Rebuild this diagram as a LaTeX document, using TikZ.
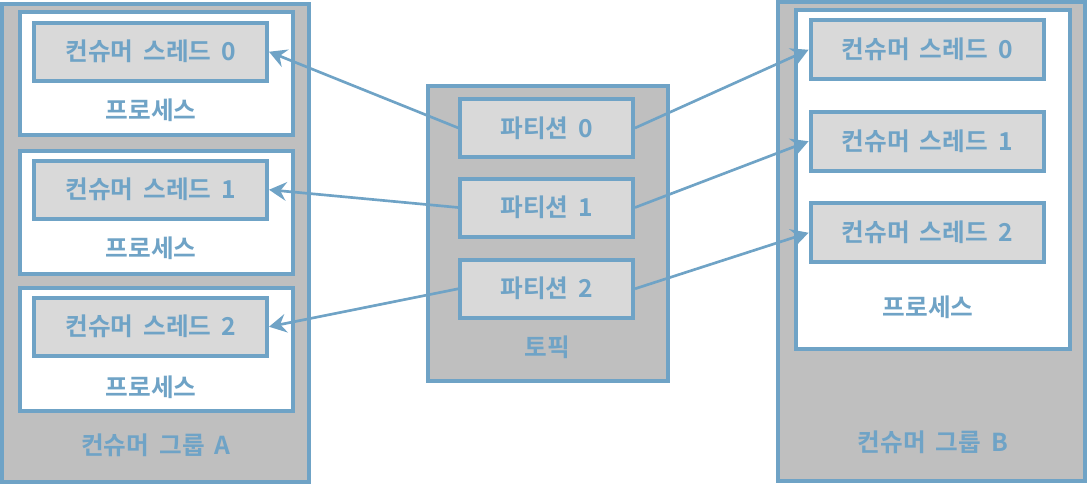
\documentclass[tikz,border=0pt]{standalone}
\usepackage{fontspec}
\setmainfont{Noto Sans CJK KR Bold}[WordSpace=1.8]
\usepackage{tikz}
\usetikzlibrary{arrows.meta}
\definecolor{steelblue}{HTML}{6FA3C6}
\definecolor{groupgray}{HTML}{BFBFBF}
\definecolor{threadgray}{HTML}{D9D9D9}
\tikzset{%
  boxgrp/.style={rectangle,draw=steelblue,fill=groupgray,line width=3pt,inner sep=0pt}
}
\tikzset{%
  boxproc/.style={rectangle,draw=steelblue,fill=white,line width=3pt,inner sep=0pt}
}
\tikzset{%
  boxthr/.style={rectangle,draw=steelblue,fill=threadgray,line width=3pt,inner sep=0pt,text=steelblue,font=\boxfont}
}
\tikzset{%
  boxlabel/.style={text=steelblue,font=\boxfont,inner sep=0pt},
  consume/.style={draw=steelblue,line width=2pt,-{Stealth[length=13pt,width=14pt,inset=4.5pt]}}
}
\newcommand\boxfont{\fontsize{18.5}{20}\selectfont}

\begin{document}
\begin{tikzpicture}[x=0.75pt,y=-0.75pt]
            \useasboundingbox (0,0) rectangle (1088,486);
            % consumer group A
            \node[boxgrp,minimum width=230.25pt,minimum height=358.5pt](grpa) at (155.5,243){};
            \node[boxproc,minimum width=205.1pt,minimum height=92.25pt](proca0) at (156.75,73.5){};
            \node[boxproc,minimum width=205.1pt,minimum height=92.25pt](proca1) at (156.75,212){};
            \node[boxproc,minimum width=205.1pt,minimum height=92.25pt](proca2) at (156.75,349.5){};
            \node[boxthr,minimum width=174.4pt,minimum height=43.3pt](thra0) at (150.75,51.75){컨슈머 스레드 0};
            \node[boxthr,minimum width=174.4pt,minimum height=43.3pt](thra1) at (150.75,189.75){컨슈머 스레드 1};
            \node[boxthr,minimum width=174.4pt,minimum height=43.3pt](thra2) at (150.75,326.75){컨슈머 스레드 2};
            \node[boxlabel](proca0lbl) at (151,110){프로세스};
            \node[boxlabel](proca1lbl) at (151,248){프로세스};
            \node[boxlabel](proca2lbl) at (151,387){프로세스};
            \node[boxlabel](grpalbl) at (156,445){컨슈머 그룹 A};

            % topic
            \node[boxgrp,minimum width=180pt,minimum height=221.6pt](topic) at (548,233.75){};
            \node[boxthr,minimum width=129.4pt,minimum height=43.5pt](part0) at (546.75,128){파티션 0};
            \node[boxthr,minimum width=129.4pt,minimum height=43.5pt](part1) at (546.75,207.5){파티션 1};
            \node[boxthr,minimum width=129.4pt,minimum height=43.5pt](part2) at (546.75,288.75){파티션 2};
            \node[boxlabel](topiclbl) at (547,347){토픽};

            % consumer group B
            \node[boxgrp,minimum width=230.25pt,minimum height=358.9pt](grpb) at (931.5,241.25){};
            \node[boxproc,minimum width=205.5pt,minimum height=253.9pt](procb) at (933,179.75){};
            \node[boxthr,minimum width=175.1pt,minimum height=43.9pt](thrb0) at (927.25,49.75){컨슈머 스레드 0};
            \node[boxthr,minimum width=175.1pt,minimum height=43.9pt](thrb1) at (927.25,141.25){컨슈머 스레드 1};
            \node[boxthr,minimum width=175.1pt,minimum height=43.9pt](thrb2) at (927.25,232.75){컨슈머 스레드 2};
            \node[boxlabel](procblbl) at (928,307){프로세스};
            \node[boxlabel](grpblbl) at (933,442){컨슈머 그룹 B};

            % partitions to threads
            \draw[consume] (part0.west) -- (thra0.east);
            \draw[consume] (part1.west) -- (thra1.east);
            \draw[consume] (part2.west) -- (thra2.east);
            \draw[consume] (part0.east) -- (thrb0.west);
            \draw[consume] (part1.east) -- (thrb1.west);
            \draw[consume] (part2.east) -- (thrb2.west);
        \end{tikzpicture}
\end{document}
